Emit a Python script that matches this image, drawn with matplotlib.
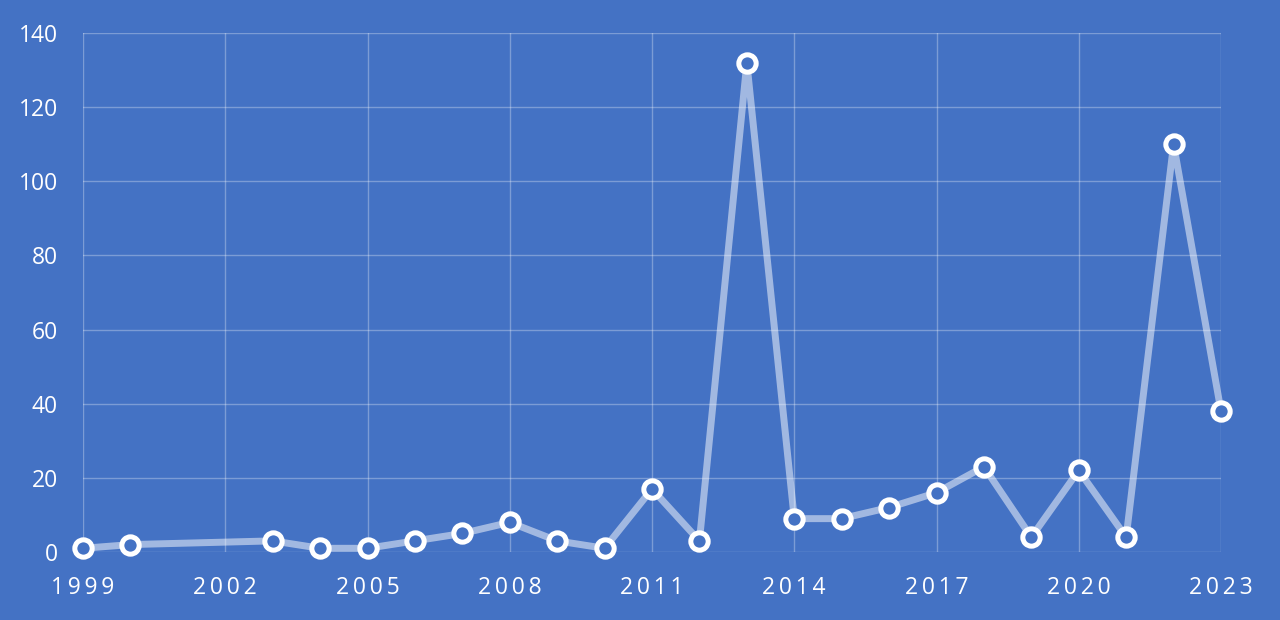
import matplotlib
matplotlib.use("Agg")
import matplotlib.pyplot as plt

years = [1999, 2000, 2003, 2004, 2005, 2006, 2007, 2008, 2009, 2010, 2011, 2012,
         2013, 2014, 2015, 2016, 2017, 2018, 2019, 2020, 2021, 2022, 2023]
values = [1, 2, 3, 1, 1, 3, 5, 8, 3, 1, 17, 3,
          132, 9, 9, 12, 16, 23, 4, 22, 4, 110, 38]
x_ticks = [1999, 2002, 2005, 2008, 2011, 2014, 2017, 2020, 2023]
y_ticks = [0, 20, 40, 60, 80, 100, 120, 140]

bg = "#4472C4"
plt.rcParams['font.family'] = ['Open Sans', 'DejaVu Sans']

fig = plt.figure(figsize=(12.8, 6.2), dpi=100, facecolor=bg)
ax = fig.add_axes([83/1280, 68/620, (1221-83)/1280, (552-33)/620])
ax.set_facecolor(bg)
ax.set_xlim(1999, 2023)
ax.set_ylim(0, 140)
ax.set_xticks(x_ticks)
ax.set_yticks(y_ticks)
ax.set_xticklabels(["\u2009".join(str(t)) for t in x_ticks])
ax.grid(True, color="white", alpha=0.3, linewidth=1)
ax.set_axisbelow(True)
for s in ax.spines.values():
    s.set_visible(False)
ax.tick_params(length=0, colors="white", labelsize=16.5)
ax.tick_params(axis='x', pad=17)
ax.tick_params(axis='y', pad=18)

ax.plot(years, values, color="white", alpha=0.5, linewidth=5, zorder=3, clip_on=False,
        solid_joinstyle='round', solid_capstyle='round')
ax.plot(years, values, linestyle='none', marker='o', markersize=12.5,
        markerfacecolor=bg, markeredgecolor="white", markeredgewidth=3.6,
        zorder=4, clip_on=False)

fig.savefig("out.png", dpi=100, facecolor=bg)
